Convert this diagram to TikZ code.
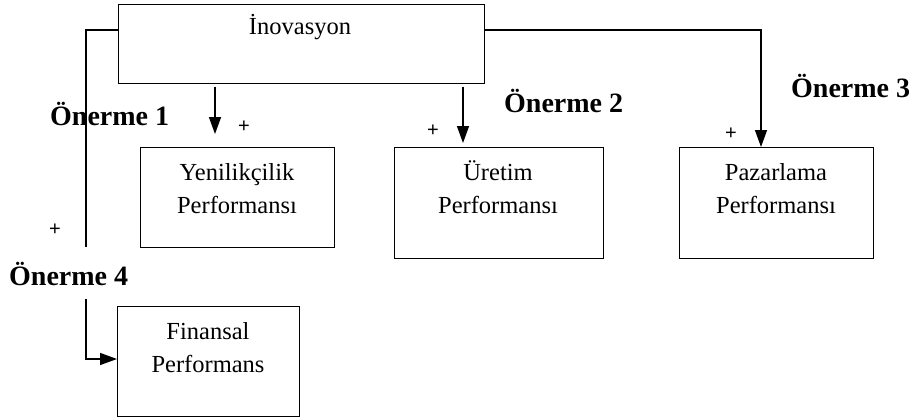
\documentclass[tikz,border=0pt]{standalone}
\usepackage{fontspec}
\setmainfont{Liberation Serif}
\newfontfamily\plusfont{Liberation Sans}
\usetikzlibrary{arrows.meta}
\begin{document}
\begin{tikzpicture}[x=1pt,y=-1pt,
  box/.style={draw, line width=1.4pt, anchor=north west, inner sep=0pt},
  txt/.style={anchor=base, inner sep=0pt, align=center, font=\fontsize{24.5}{33}\selectfont},
  lbl/.style={anchor=base west, inner sep=0pt, font=\fontsize{28}{30}\selectfont\bfseries},
  pl/.style={inner sep=0pt, font=\plusfont\fontsize{20}{20}\selectfont},
  conn/.style={line width=1.4pt},
  arr/.style={line width=1.4pt, -{Triangle[width=12pt,length=17pt]}}]
\useasboundingbox (0,0) rectangle (911,420);
% boxes
\node[box, minimum width=366pt, minimum height=79pt] (ino) at (118,4) {};
\node[box, minimum width=194pt, minimum height=100pt] (yen) at (140,147) {};
\node[box, minimum width=209pt, minimum height=111pt] (ure) at (394,147) {};
\node[box, minimum width=194pt, minimum height=111pt] (paz) at (679,147) {};
\node[box, minimum width=182pt, minimum height=110pt] (fin) at (117,306) {};
% texts
\node[txt] (tino) at (300,35) {İnovasyon};
\node[txt] (tyen) at (237,213) {Yenilikçilik\\Performansı};
\node[txt] (ture) at (498,213) {Üretim\\Performansı};
\node[txt] (tpaz) at (776,213) {Pazarlama\\Performansı};
\node[txt] (tfin) at (208,372) {Finansal\\Performans};
% labels
\node[lbl] (o1) at (50,125) {Önerme 1};
\node[lbl] (o2) at (504,113) {Önerme 2};
\node[lbl] (o3) at (791,97) {Önerme 3};
\node[lbl] (o4) at (9,285) {Önerme 4};
% plus signs
\node[pl] (p1) at (244,127) {+};
\node[pl] (p2) at (433,131) {+};
\node[pl] (p3) at (731,134) {+};
\node[pl] (p4) at (55,230) {+};
% connectors
\coordinate (a1s) at (215,87);
\coordinate (a1e) at (215,134);
\coordinate (a2s) at (463,87);
\coordinate (a2e) at (463,143);
\draw[arr] (a1s) -- (a1e);
\draw[arr] (a2s) -- (a2e);
\coordinate (l1) at (86,30);
\coordinate (l2) at (86,247);
\coordinate (l3) at (86,299);
\draw[conn] (ino.west |- l1) -- (l1) -- (l2);
\draw[arr] (l3) |- (fin.west |- 0,359);
\coordinate (r1) at (761,30);
\draw[arr] (ino.east |- r1) -- (r1) -- (paz.north -| r1);
\end{tikzpicture}
\end{document}
